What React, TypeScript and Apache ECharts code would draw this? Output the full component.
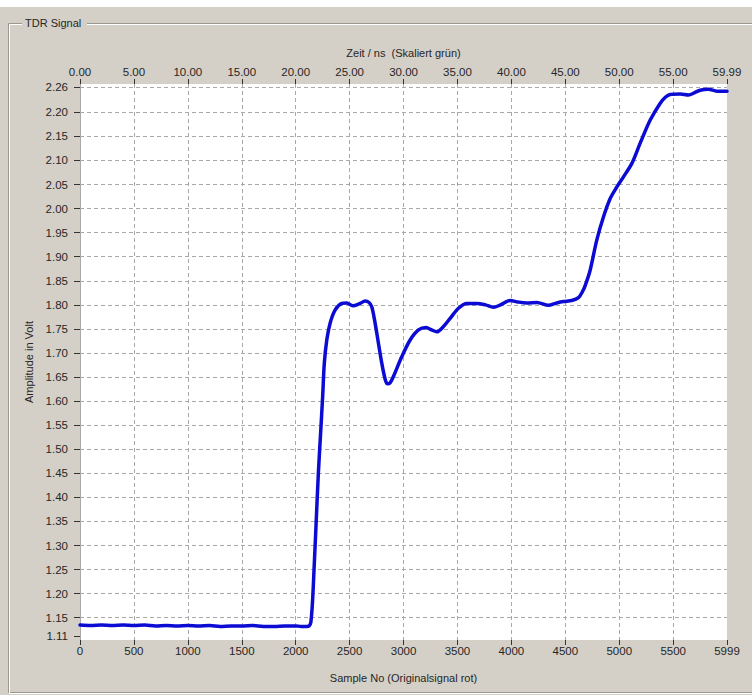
import { useEffect, useRef } from "react";
import * as echarts from "echarts";

// TDR trace: sample index vs. amplitude (V)
const sampleNo = [
  0, 100, 200, 300, 400, 500, 600, 700, 800, 900, 1000, 1100, 1200, 1300, 1400,
  1500, 1600, 1700, 1800, 1900, 2000, 2050, 2100, 2125, 2140, 2155, 2170, 2190,
  2210, 2230, 2250, 2265, 2288, 2319, 2365, 2427, 2473, 2529, 2597, 2643, 2680,
  2705, 2730, 2752, 2798, 2830, 2850, 2875, 2906, 2983, 3061, 3138, 3209, 3260,
  3308, 3370, 3432, 3509, 3587, 3679, 3760, 3833, 3900, 3988, 4060, 4143, 4236,
  4343, 4420, 4483, 4560, 4622, 4660, 4684, 4730, 4792, 4854, 4916, 4978, 5039,
  5117, 5194, 5287, 5380, 5430, 5472, 5565, 5642, 5700, 5750, 5827, 5905, 5999,
];
const amplitudeVolt = [
  1.135, 1.134, 1.135, 1.134, 1.135, 1.134, 1.135, 1.133, 1.134, 1.133, 1.134,
  1.133, 1.134, 1.132, 1.133, 1.133, 1.134, 1.132, 1.132, 1.133, 1.133, 1.132,
  1.132, 1.133, 1.14, 1.18, 1.25, 1.35, 1.45, 1.53, 1.61, 1.678, 1.727, 1.762,
  1.789, 1.803, 1.804, 1.798, 1.803, 1.808, 1.805, 1.796, 1.77, 1.741, 1.679,
  1.645, 1.636, 1.638, 1.651, 1.692, 1.727, 1.748, 1.753, 1.748, 1.744, 1.755,
  1.772, 1.793, 1.803, 1.803, 1.8, 1.795, 1.8, 1.809, 1.806, 1.804, 1.805, 1.799,
  1.804, 1.807, 1.809, 1.815, 1.828, 1.84, 1.872, 1.935, 1.983, 2.021, 2.045,
  2.066, 2.094, 2.136, 2.184, 2.219, 2.232, 2.237, 2.238, 2.236, 2.241, 2.246,
  2.248, 2.244, 2.244,
];

// Amplitude axis ticks and their labels
const yTickValues = [
  1.111, 1.15, 1.2, 1.25, 1.3, 1.35, 1.4, 1.45, 1.5, 1.55, 1.6, 1.65, 1.7, 1.75,
  1.8, 1.85, 1.9, 1.95, 2.0, 2.05, 2.1, 2.15, 2.2, 2.2525,
];
const yTickLabels = [
  "1.11", "1.15", "1.20", "1.25", "1.30", "1.35", "1.40", "1.45", "1.50", "1.55",
  "1.60", "1.65", "1.70", "1.75", "1.80", "1.85", "1.90", "1.95", "2.00", "2.05",
  "2.10", "2.15", "2.20", "2.26",
];
const yMin = 1.1037;
const yMax = 2.2589;

const sampleMax = 5999;
const sampleStep = 500;
const timeMaxNs = 59.99;
const timeStepNs = 5;

const FONT = "'Liberation Sans', Arial, sans-serif";
const TEXT = "#262626";
const GRID = "#a9a9a9";
const EDGE_DARK = "#9c9890";

export default function App() {
  const ref = useRef<HTMLDivElement>(null);

  useEffect(() => {
    const chart = echarts.init(ref.current!, null, { renderer: "svg" });
    const data = sampleNo.map((s, i) => [s, amplitudeVolt[i]]);

    const xTickCount = Math.floor(sampleMax / sampleStep) + 2;
    const xSplitColors = Array.from({ length: xTickCount }, (_, i) =>
      i === 0 || i === xTickCount - 1 ? "rgba(0,0,0,0)" : GRID
    );
    const ySplitColors = yTickValues.map((_, i) => (i === 0 ? "rgba(0,0,0,0)" : GRID));

    const tickLabel = {
      fontFamily: FONT,
      fontSize: 11.5,
      color: TEXT,
    };
    const nameStyle = { fontFamily: FONT, fontSize: 11, color: TEXT };

    chart.setOption({
      animation: false,
      backgroundColor: "#d4d0c8",
      grid: {
        left: 80,
        top: 84,
        width: 647,
        height: 556,
        show: true,
        backgroundColor: "#ffffff",
        borderWidth: 0,
        outerBoundsMode: "none",
      },
      graphic: [
        { type: "rect", shape: { x: 0, y: 0, width: 752, height: 7 }, style: { fill: "#ffffff" } },
        // etched group box frame
        {
          type: "polyline",
          shape: { points: [[22, 23.5], [8.5, 23.5], [8.5, 692.5], [752, 692.5]] },
          style: { stroke: EDGE_DARK, fill: "none", lineWidth: 1 },
        },
        {
          type: "polyline",
          shape: { points: [[22, 24.5], [9.5, 24.5], [9.5, 693.5], [752, 693.5]] },
          style: { stroke: "#ffffff", fill: "none", lineWidth: 1 },
        },
        {
          type: "line",
          shape: { x1: 87, y1: 23.5, x2: 752, y2: 23.5 },
          style: { stroke: EDGE_DARK, lineWidth: 1 },
        },
        {
          type: "line",
          shape: { x1: 87, y1: 24.5, x2: 752, y2: 24.5 },
          style: { stroke: "#ffffff", lineWidth: 1 },
        },
        {
          type: "text",
          x: 25,
          y: 23,
          style: {
            text: "TDR Signal",
            fontFamily: FONT,
            fontSize: 11,
            fill: TEXT,
            verticalAlign: "middle",
          },
        },
      ],
      xAxis: [
        {
          type: "value",
          position: "bottom",
          min: 0,
          max: sampleMax,
          interval: sampleStep,
          name: "Sample No (Originalsignal rot)",
          nameLocation: "middle",
          nameGap: 32,
          nameTextStyle: nameStyle,
          axisLine: { show: false },
          axisTick: { show: true, length: 5, lineStyle: { color: "#333333" } },
          axisLabel: {
            ...tickLabel,
            margin: 5,
            showMinLabel: true,
            showMaxLabel: true,
            formatter: (v: number) => String(Math.round(v)),
          },
          splitLine: {
            show: true,
            lineStyle: { color: xSplitColors, type: [4, 3], width: 1 },
          },
        },
        {
          type: "value",
          position: "top",
          min: 0,
          max: timeMaxNs,
          interval: timeStepNs,
          name: "Zeit / ns  (Skaliert grün)",
          nameLocation: "middle",
          nameGap: 26,
          nameTextStyle: nameStyle,
          axisLine: { show: false },
          axisTick: { show: true, length: 5, lineStyle: { color: "#333333" } },
          axisLabel: {
            ...tickLabel,
            margin: 6,
            showMinLabel: true,
            showMaxLabel: true,
            formatter: (v: number) => v.toFixed(2),
          },
          splitLine: { show: false },
        },
      ],
      yAxis: {
        type: "value",
        min: yMin,
        max: yMax,
        name: "Amplitude in Volt",
        nameLocation: "middle",
        nameGap: 36,
        nameTextStyle: nameStyle,
        axisLine: { show: true, lineStyle: { color: "#a8a8a8", width: 1 } },
        axisTick: {
          show: true,
          length: 6,
          customValues: yTickValues,
          lineStyle: { color: "#333333" },
        },
        axisLabel: {
          ...tickLabel,
          margin: 12,
          customValues: yTickValues,
          formatter: (v: number) => {
            const i = yTickValues.findIndex((t) => Math.abs(t - v) < 1e-6);
            return i >= 0 ? yTickLabels[i] : "";
          },
        },
        splitLine: {
          show: true,
          lineStyle: { color: ySplitColors, type: [4, 3], width: 1 },
        },
      },
      series: [
        {
          type: "line",
          xAxisIndex: 0,
          yAxisIndex: 0,
          data,
          symbol: "none",
          smooth: 0.3,
          lineStyle: { color: "#0b0bd4", width: 3.5, join: "round", cap: "round" },
          clip: true,
        },
      ],
    });

    return () => chart.dispose();
  }, []);

  return (
    <div
      ref={ref}
      style={{ position: "fixed", left: 0, top: 0, width: 752, height: 695 }}
    />
  );
}
